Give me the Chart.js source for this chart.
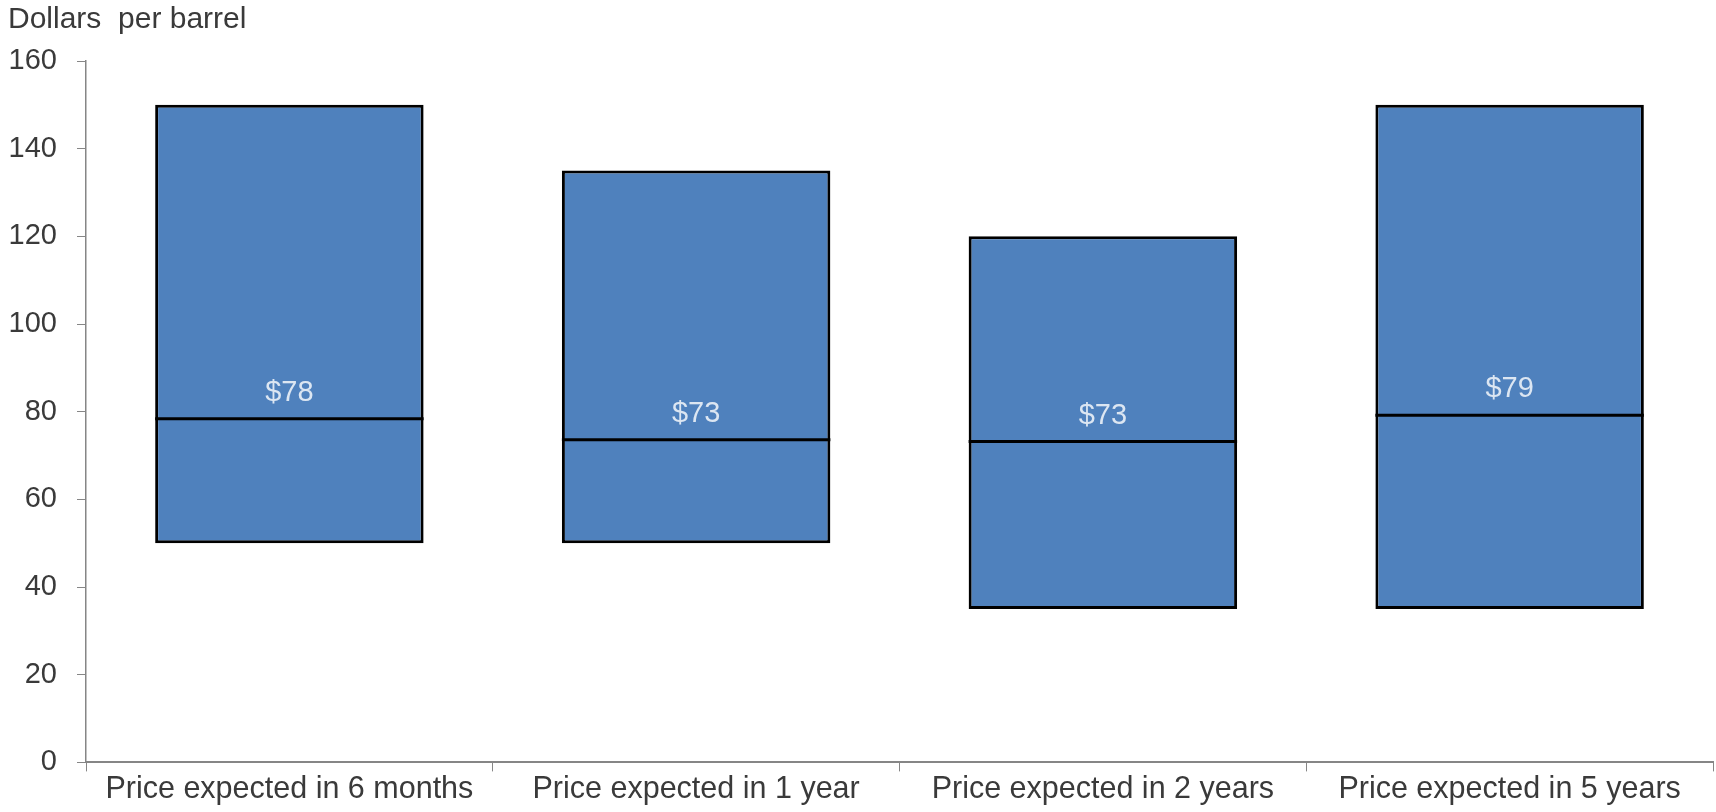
<!DOCTYPE html>
<html lang="en">
<head>
  <meta charset="UTF-8">
  <title>Oil price expectations</title>
  <script src="https://cdn.jsdelivr.net/npm/chart.js"></script>
  <style>
    html, body { margin: 0; padding: 0; background: #fff; }
    #wrap { width: 1716px; height: 812px; }
  </style>
</head>
<body>
  <div id="wrap">
    <canvas id="rangeChart"></canvas>
  </div>

  <script>
    // data
    const categories = ['Price expected in 6 months', 'Price expected in 1 year', 'Price expected in 2 years', 'Price expected in 5 years'];
    const lows = [50, 50, 35, 35];
    const medians = [78.4, 73.6, 73.2, 79.2];
    const highs = [150, 135, 120, 150];
    const medianLabels = ['$78', '$73', '$73', '$79'];
    const yTicks = [0, 20, 40, 60, 80, 100, 120, 140, 160];

    const fill = '#4f81bd';
    const axisGrey = '#868686';
    const textGrey = '#3a3a3a';
    const fontFamily = '"Liberation Sans", Arial, sans-serif';
    const lineHalf = 0.36; // half thickness of the median mark, in dollars

    // median text drawn just above the median line
    const medianText = {
      id: 'medianText',
      afterDatasetsDraw(chart) {
        const ctx = chart.ctx;
        const meta = chart.getDatasetMeta(0);
        ctx.save();
        ctx.font = '29px ' + fontFamily;
        ctx.fillStyle = '#dce6f2';
        ctx.textAlign = 'center';
        ctx.textBaseline = 'middle';
        meta.data.forEach(function (bar, i) {
          const y = chart.scales.y.getPixelForValue(medians[i]);
          ctx.fillText(medianLabels[i], bar.x, y - 26);
        });
        ctx.restore();
      }
    };

    const ctx = document.getElementById('rangeChart').getContext('2d');
    new Chart(ctx, {
      type: 'bar',
      data: {
        labels: categories,
        datasets: [{
          label: 'Range',
          data: categories.map(function (c, i) { return [lows[i], highs[i]]; }),
          backgroundColor: fill,
          borderColor: '#000',
          borderWidth: 3,
          borderSkipped: false,
          inflateAmount: 0,
          grouped: false,
          order: 2
        }, {
          label: 'Median',
          data: categories.map(function (c, i) { return [medians[i] - lineHalf, medians[i] + lineHalf]; }),
          backgroundColor: '#000',
          borderWidth: 0,
          inflateAmount: 0,
          grouped: false,
          order: 1
        }]
      },
      options: {
        responsive: true,
        maintainAspectRatio: false,
        animation: false,
        barPercentage: 0.66,
        categoryPercentage: 1,
        layout: { padding: { left: 8, right: 3, top: 0, bottom: 4 } },
        plugins: {
          legend: { display: false },
          tooltip: { enabled: false },
          title: {
            display: true,
            text: 'Dollars  per barrel',
            align: 'start',
            color: textGrey,
            font: { family: fontFamily, size: 30, weight: 'normal' },
            padding: { top: 2, bottom: 23 }
          }
        },
        scales: {
          x: {
            grid: { display: true, drawOnChartArea: false, offset: true, color: axisGrey, tickLength: 9 },
            border: { color: axisGrey, width: 2 },
            ticks: {
              color: textGrey,
              font: { family: fontFamily, size: 30.5 },
              padding: 0,
              maxRotation: 0
            }
          },
          y: {
            min: 0,
            max: 160,
            afterBuildTicks(axis) { axis.ticks = yTicks.map(function (v) { return { value: v }; }); },
            afterFit(axis) { axis.width = 78; },
            grid: { display: true, drawOnChartArea: false, color: axisGrey, tickLength: 9 },
            border: { color: axisGrey, width: 1.5 },
            ticks: {
              color: textGrey,
              font: { family: fontFamily, size: 29 },
              padding: 20
            }
          }
        }
      },
      plugins: [medianText]
    });
  </script>
</body>
</html>
